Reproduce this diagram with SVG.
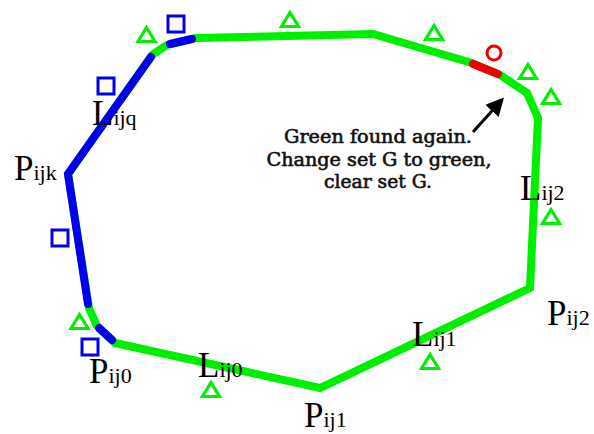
<svg xmlns="http://www.w3.org/2000/svg" width="594" height="434" viewBox="0 0 594 434">
<style>
.poly{fill:none;stroke-width:8;}
.g{stroke:#00ee00;stroke-linejoin:miter;}
.b{stroke:#0000ee;stroke-linecap:round;stroke-linejoin:miter;}
.r{stroke:#ee0000;stroke-linecap:round;}
.sq{fill:none;stroke:#0000ee;stroke-width:3;}
.tri{fill:none;stroke:#00ee00;stroke-width:3.2;stroke-linejoin:miter;}
.lab{font-family:"Liberation Serif",serif;fill:#000;}
.big{font-size:35px;}
.sub{font-size:22px;}
.note{font-family:"DejaVu Serif",serif;font-size:18px;fill:#111;stroke:#111;stroke-width:0.6;text-anchor:middle;}
</style>
<defs>
<path id="tri" class="tri" d="M0,-7.5 L8.5,6.5 L-8.5,6.5 Z"/>
<marker id="ah" markerWidth="6" markerHeight="6" refX="4" refY="3" orient="auto" markerUnits="strokeWidth">
<path d="M0,0 L6,3 L0,6 Z" fill="#000"/>
</marker>
</defs>
<g id="connectors">
<polygon class="poly g" points="68,174 152,55 167,45 195,38 373,34 472,63 500,75 527,93 538,118 530,288 320,388 115,343 97,326 89,308"/>
<polyline class="poly b" points="88,304 68,174 151,57"/>
<line class="poly b" x1="170" y1="44" x2="192" y2="39"/>
<line class="poly b" x1="112" y1="340" x2="99" y2="328"/>
<line class="poly r" x1="473" y1="64" x2="498" y2="74"/>
<line x1="473" y1="132" x2="500" y2="102" stroke="#000" stroke-width="3" marker-end="url(#ah)"/>
</g>
<g id="squares">
<rect class="sq" x="168" y="16" width="16" height="16"/>
<rect class="sq" x="98" y="78" width="16" height="16"/>
<rect class="sq" x="52" y="230" width="16" height="16"/>
<rect class="sq" x="82" y="339" width="16" height="16"/>
</g>
<g id="triangles">
<use href="#tri" x="146.5" y="35"/>
<use href="#tri" x="290" y="20"/>
<use href="#tri" x="434" y="33"/>
<use href="#tri" x="528" y="72"/>
<use href="#tri" x="551" y="97"/>
<use href="#tri" x="551" y="217"/>
<use href="#tri" x="430" y="362"/>
<use href="#tri" x="211" y="390"/>
<use href="#tri" x="79.5" y="322"/>
</g>
<g id="circle-mark">
<circle cx="494" cy="53" r="7" fill="none" stroke="#ee0000" stroke-width="3"/>
</g>
<g id="node-pijk"><text class="lab" x="14" y="180"><tspan class="big">P</tspan><tspan class="sub">ijk</tspan></text></g>
<g id="node-lijq"><text class="lab" x="92" y="125"><tspan class="big">L</tspan><tspan class="sub">ijq</tspan></text></g>
<g id="node-pij0"><text class="lab" x="89" y="383"><tspan class="big">P</tspan><tspan class="sub">ij0</tspan></text></g>
<g id="node-lij0"><text class="lab" x="198" y="377"><tspan class="big">L</tspan><tspan class="sub">ij0</tspan></text></g>
<g id="node-pij1"><text class="lab" x="304" y="427"><tspan class="big">P</tspan><tspan class="sub">ij1</tspan></text></g>
<g id="node-lij1"><text class="lab" x="412" y="346"><tspan class="big">L</tspan><tspan class="sub">ij1</tspan></text></g>
<g id="node-pij2"><text class="lab" x="547" y="325"><tspan class="big">P</tspan><tspan class="sub">ij2</tspan></text></g>
<g id="node-lij2"><text class="lab" x="520" y="200"><tspan class="big">L</tspan><tspan class="sub">ij2</tspan></text></g>
<g id="note">
<text class="note" x="378" y="143" textLength="188" lengthAdjust="spacingAndGlyphs">Green found again.</text>
<text class="note" x="379" y="166" textLength="225" lengthAdjust="spacingAndGlyphs">Change set G to green,</text>
<text class="note" x="378" y="188" textLength="108" lengthAdjust="spacingAndGlyphs">clear set G.</text>
</g>
</svg>
